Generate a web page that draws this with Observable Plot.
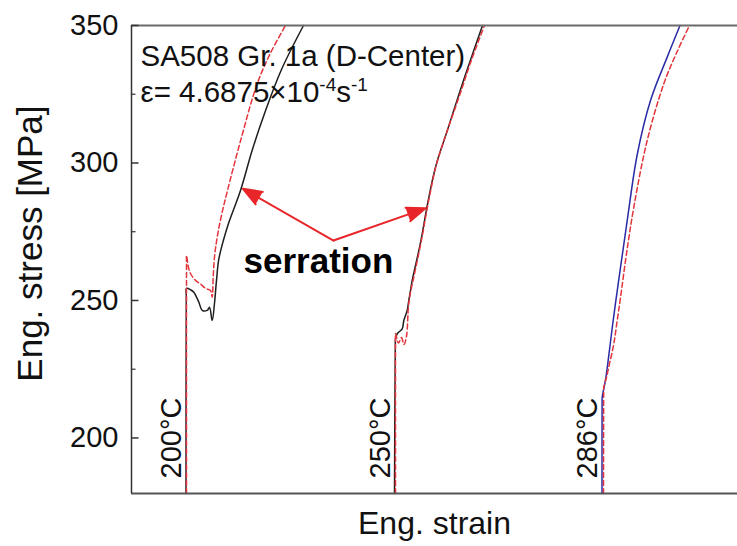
<!DOCTYPE html>
<html><head><meta charset="utf-8">
<script src="https://cdn.jsdelivr.net/npm/d3@7"></script>
<script src="https://cdn.jsdelivr.net/npm/@observablehq/plot@0.6"></script>
<style>body{margin:0;background:#fff;} #chart{width:737px;height:546px;}</style>
</head><body><div id="chart"></div>
<script>
// ---- data (strain in arbitrary offset units, stress in MPa) ----
const strain200Exp = [0.0545,0.0548,0.055,0.059,0.0623,0.0673,0.0707,0.0757,0.078,0.0807,0.083,0.085,0.0873,0.092,0.097,0.109,0.121,0.134,0.150,0.172];
const stress200Exp = [179.8,251.5,254.4,253.9,253.0,249.4,246.4,246.4,247.5,242.7,249,257.3,265,272,278,290,305,319,334,350];
const strain200Sim = [0.055,0.055,0.055,0.057,0.059,0.064,0.069,0.074,0.079,0.0807,0.0817,0.083,0.0857,0.090,0.096,0.109,0.1257,0.139,0.154];
const stress200Sim = [179.8,263.5,266.4,262,259.8,257.3,256,254.4,253.6,251.2,258.5,265.8,273,281,290,308,328.8,340,350];

const strain250Exp = [0.263,0.2638,0.264,0.2657,0.2707,0.2723,0.2757,0.2773,0.279,0.2807,0.289,0.296,0.304,0.316,0.327,0.339,0.351];
const stress250Exp = [179.8,233.5,236,237.9,239.7,242.7,246.4,250,253.6,257.3,271,285,298.5,312,324.5,337.5,350];
const strain250Sim = [0.264,0.264,0.264,0.267,0.270,0.2725,0.275,0.277,0.279,0.282,0.290,0.297,0.305,0.316,0.328,0.340,0.353];
const stress250Sim = [179.8,235.5,238,234.5,236.5,234,237,248,253,258,272,286,299.5,312,324.5,337.5,350];

const strain286Exp = [0.4705,0.4706,0.4707,0.474,0.4773,0.4807,0.484,0.489,0.4957,0.5057,0.519,0.5357,0.5485];
const stress286Exp = [179.8,212.5,214.8,221,230,240,249,262,279,303,322.7,338.5,350];
const strain286Sim = [0.472,0.4722,0.4723,0.475,0.478,0.4823,0.4857,0.489,0.495,0.5023,0.5157,0.5323,0.545,0.558];
const stress286Sim = [179.8,216.5,218.5,222,227,234.2,242.7,251,267,283.9,308.2,328.8,340,350];

const tempLabels = ["200°C", "250°C", "286°C"];
const tempStrain = [0.0545, 0.263, 0.4705];
const tempStress = [200, 200, 200];

const majorTicks = [200, 250, 300, 350];
const minorTicks = [225, 275, 325];

const arrowFromStrain = 0.202, arrowFromStress = 271.8;
const arrowToStrain = [0.1115, 0.294];
const arrowToStress = [290.6, 283.5];

const titleLines = ["SA508 Gr. 1a (D-Center)", "ε= 4.6875×10⁻⁴s⁻¹"];
const annotation = "serration";
const xLabel = "Eng. strain";
const yLabel = "Eng. stress [MPa]";

const xDomain = [0, 0.606];
const yDomain = [179.8, 350];

// ---- build tables ----
const pts = (xs, ys) => xs.map((x, i) => ({strain: x, stress: ys[i]}));
const exp200 = pts(strain200Exp, stress200Exp), sim200 = pts(strain200Sim, stress200Sim);
const exp250 = pts(strain250Exp, stress250Exp), sim250 = pts(strain250Sim, stress250Sim);
const exp286 = pts(strain286Exp, stress286Exp), sim286 = pts(strain286Sim, stress286Sim);
const temps = tempLabels.map((t, i) => ({t, strain: tempStrain[i], stress: tempStress[i]}));
const arrows = arrowToStrain.map((x, i) => ({x1: arrowFromStrain, y1: arrowFromStress, x2: x, y2: arrowToStress[i]}));

const FONT = "'Liberation Sans', Arial, Helvetica, sans-serif";
const RED = "#e3343c";
const dashed = {x: "strain", y: "stress", stroke: RED, strokeWidth: 1.5, strokeDasharray: "5,3", curve: "catmull-rom"};
const solid = {x: "strain", y: "stress", stroke: "#1e1e1e", strokeWidth: 1.5, curve: "catmull-rom"};

const chart = Plot.plot({
  width: 737,
  height: 546,
  marginLeft: 131,
  marginRight: 0,
  marginTop: 25,
  marginBottom: 53,
  style: {fontFamily: FONT, fontSize: "29px", background: "#fff", color: "#111", overflow: "visible"},
  x: {domain: xDomain, axis: null},
  y: {domain: yDomain, axis: null},
  marks: [
    // curves
    Plot.line(exp200, solid),
    Plot.line(sim200, dashed),
    Plot.line(exp250, solid),
    Plot.line(sim250, dashed),
    Plot.line(exp286, {...solid, stroke: "#2a2aa6"}),
    Plot.line(sim286, dashed),
    // frame (top, bottom, left)
    Plot.ruleY([yDomain[1]], {stroke: "#6a6a6a", strokeWidth: 2.2}),
    Plot.ruleY([yDomain[0]], {stroke: "#555", strokeWidth: 2}),
    Plot.ruleX([xDomain[0]], {stroke: "#333", strokeWidth: 1.5}),
    // y ticks (inward)
    Plot.link(majorTicks, {x1: xDomain[0], x2: xDomain[0] + 0.007, y1: d => d, y2: d => d, stroke: "#333", strokeWidth: 1.5}),
    Plot.link(minorTicks, {x1: xDomain[0], x2: xDomain[0] + 0.004, y1: d => d, y2: d => d, stroke: "#333", strokeWidth: 1.2}),
    Plot.axisY({ticks: majorTicks, tickSize: 0, tickPadding: 13, label: null, fontSize: 29, fontFamily: FONT, fill: "#111"}),
    // axis labels
    Plot.text([xLabel], {frameAnchor: "bottom", lineAnchor: "middle", dy: 30, fontSize: 32, fontFamily: FONT, fill: "#111"}),
    Plot.text([yLabel], {x: () => xDomain[0], y: () => 270.7, textAnchor: "middle", lineAnchor: "middle", dx: -101, rotate: -90, fontSize: 35, fontFamily: FONT, fill: "#111"}),
    // title lines
    Plot.text([titleLines[0]], {frameAnchor: "top-left", lineAnchor: "middle", dx: 9, dy: 31, textAnchor: "start", fontSize: 29.5, fontFamily: FONT, fill: "#111"}),
    Plot.text([titleLines[1]], {frameAnchor: "top-left", lineAnchor: "middle", dx: 9, dy: 67, textAnchor: "start", fontSize: 29.5, fontFamily: FONT, fill: "#111"}),
    // temperature labels
    Plot.text(temps, {x: "strain", y: "stress", text: "t", rotate: -90, dx: -14, fontSize: 29, fontFamily: FONT, fill: "#111"}),
    // serration annotation with arrows
    Plot.arrow(arrows, {x1: "x1", y1: "y1", x2: "x2", y2: "y2", stroke: "#e8262a", fill: "#e8262a", strokeWidth: 2, headLength: 15, headAngle: 42}),
    Plot.text([annotation], {x: () => 0.112, y: () => 264.2, textAnchor: "start", fontSize: 35, fontWeight: "bold", fontFamily: FONT, fill: "#000"})
  ]
});

// render superscripts of the strain-rate line as tspans
d3.select(chart).selectAll("text")
  .filter(function () { return this.textContent === titleLines[1]; })
  .each(function () {
    const t = d3.select(this);
    t.text(null);
    t.append("tspan").text("ε= 4.6875×10");
    t.append("tspan").attr("dy", -11).attr("font-size", 19).text("-4");
    t.append("tspan").attr("dy", 11).text("s");
    t.append("tspan").attr("dy", -11).attr("font-size", 19).text("-1");
  });

document.getElementById("chart").append(chart);
</script>
</body></html>
